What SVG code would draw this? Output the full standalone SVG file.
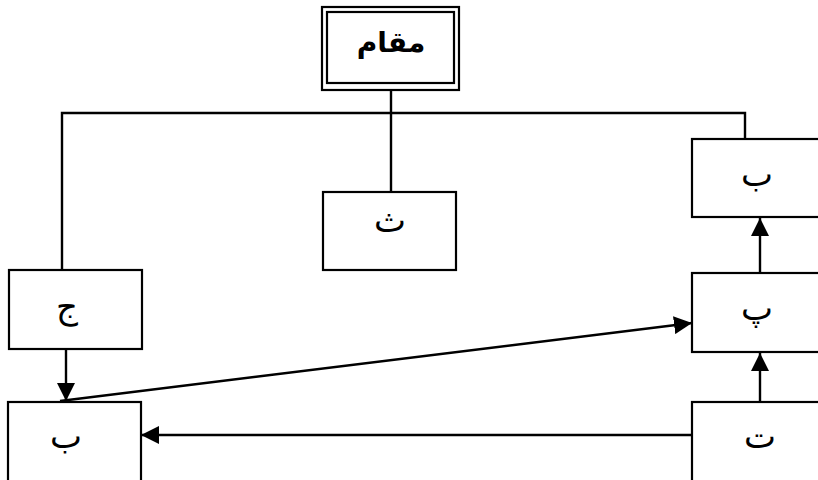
<svg xmlns="http://www.w3.org/2000/svg" width="818" height="480" viewBox="0 0 818 480">
<style>
.box{fill:#fff;stroke:#000;stroke-width:2.2}
.ln{fill:none;stroke:#000;stroke-width:2.4}
.t{font-family:"DejaVu Sans","Noto Sans",sans-serif;font-size:34px;text-anchor:middle;fill:#000}
.b{font-weight:bold;font-size:28px}
</style>
<defs>
<marker id="ah2" markerWidth="18" markerHeight="18" refX="16" refY="8" orient="auto" markerUnits="userSpaceOnUse" viewBox="0 0 16 16">
<path d="M0,0 L16,8 L0,16 z" fill="#000"/>
</marker>
</defs>
<g id="connectors">
<path class="ln" d="M391,90 V192"/>
<path class="ln" d="M62,270 V113 H745 V139"/>
<path class="ln" d="M66,349 V401" marker-end="url(#ah2)"/>
<path class="ln" d="M760,402 V353" marker-end="url(#ah2)"/>
<path class="ln" d="M760,273 V218" marker-end="url(#ah2)"/>
<path class="ln" d="M692,435 H141" marker-end="url(#ah2)"/>
<path class="ln" d="M60,401 L692,323" marker-end="url(#ah2)"/>
</g>
<g id="n-maqam">
<rect class="box" x="322" y="7" width="137" height="83"/>
<rect class="box" x="327" y="12" width="127" height="71"/>
<text class="t b" x="391" y="52">مقام</text>
</g>
<g id="n-tha">
<rect class="box" x="323" y="192" width="133" height="78"/>
<text class="t" x="390" y="232">ث</text>
</g>
<g id="n-ba-top">
<rect class="box" x="692" y="139" width="140" height="78"/>
<text class="t" x="757" y="186">ب</text>
</g>
<g id="n-pe">
<rect class="box" x="692" y="273" width="140" height="79"/>
<text class="t" x="757" y="320">پ</text>
</g>
<g id="n-te">
<rect class="box" x="692" y="402" width="140" height="90"/>
<text class="t" x="760" y="448">ت</text>
</g>
<g id="n-jim">
<rect class="box" x="9" y="270" width="133" height="79"/>
<text class="t" x="67" y="318">ج</text>
</g>
<g id="n-ba-bottom">
<rect class="box" x="8" y="402" width="133" height="90"/>
<text class="t" x="66" y="448">ب</text>
</g>
</svg>
